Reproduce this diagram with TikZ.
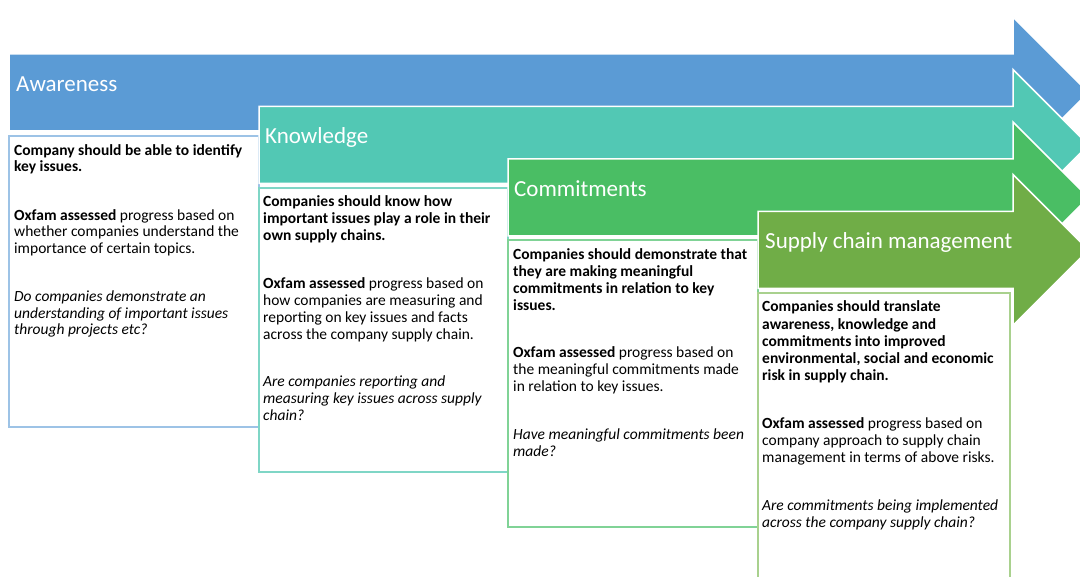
\documentclass[tikz,border=0pt]{standalone}
\usepackage{fontspec}
\setmainfont{Carlito}
\definecolor{cA}{HTML}{5B9BD5}
\definecolor{cB}{HTML}{52C8B4}
\definecolor{cC}{HTML}{4ABE64}
\definecolor{cD}{HTML}{70AD47}
\definecolor{bA}{HTML}{9DC3E6}
\definecolor{bB}{HTML}{7FD6C6}
\definecolor{bC}{HTML}{80D396}
\definecolor{bD}{HTML}{A9D18E}
\newcommand\stagearrow[3]{%
  \filldraw[fill=#3, draw=white, line width=1.5pt]
    (#1,{54+#2}) -- (1013,{54+#2}) -- (1013,{17+#2}) -- (1088.5,{92.5+#2})
    -- (1013,{168+#2}) -- (1013,{131+#2}) -- (#1,{131+#2}) -- cycle;}
\newcommand\firstline{\rule{0pt}{12pt}}
\tikzset{
  title/.style={anchor=base west, inner sep=0pt, text=white, font=\fontsize{23}{27}\selectfont},
  body/.style={anchor=north west, inner sep=0pt, align=left, text=black, font=\fontsize{15.5}{17}\selectfont},
  infobox/.style={fill=white, line width=1.5pt}
}
\begin{document}
\begin{tikzpicture}[x=1pt,y=-1pt]
\useasboundingbox (0,0) rectangle (1080,577);
\clip (0,0) rectangle (1080,577);
\fill[white] (0,0) rectangle (1080,577);

% Stage 1
\stagearrow{9}{0}{cA}
\node[title] (t1) at (16,91.5) {Awareness};
\filldraw[infobox, draw=bA] (9,136) rectangle (259,427);
\node[body, font=\fontsize{15.5}{16.5}\selectfont] (p1) at (14,143) {\firstline\textbf{Company should be able to identify}\\
\textbf{key issues.}\\[32pt]
\textbf{Oxfam assessed} progress based on\\
whether companies understand the\\
importance of certain topics.\\[32pt]
\textit{Do companies demonstrate an}\\
\textit{understanding of important issues}\\
\textit{through projects etc?}};

% Stage 2
\stagearrow{259}{52.5}{cB}
\node[title] (t2) at (265,144) {Knowledge};
\filldraw[infobox, draw=bB] (259,188) rectangle (508,472);
\node[body] (p2) at (263,194.5) {\firstline\textbf{Companies should know how}\\
\textbf{important issues play a role in their}\\
\textbf{own supply chains.}\\[30.5pt]
\textbf{Oxfam assessed} progress based on\\
how companies are measuring and\\
reporting on key issues and facts\\
across the company supply chain.\\[30pt]
\textit{Are companies reporting and}\\
\textit{measuring key issues across supply}\\
\textit{chain?}};

% Stage 3
\stagearrow{508}{105}{cC}
\node[title] (t3) at (514,196.5) {Commitments};
\filldraw[infobox, draw=bC] (508,240) rectangle (758,527);
\node[body] (p3) at (513,247.5) {\firstline\textbf{Companies should demonstrate that}\\
\textbf{they are making meaningful}\\
\textbf{commitments in relation to key}\\
\textbf{issues.}\\[30pt]
\textbf{Oxfam assessed} progress based on\\
the meaningful commitments made\\
in relation to key issues.\\[31pt]
\textit{Have meaningful commitments been}\\
\textit{made?}};

% Stage 4
\stagearrow{758}{157.5}{cD}
\node[title] (t4) at (765,249) {Supply chain management};
\filldraw[infobox, draw=bD] (758,293) rectangle (1010,600);
\node[body, font=\fontsize{15.5}{17.3}\selectfont] (p4) at (762,299.5) {\firstline\textbf{Companies should translate}\\
\textbf{awareness, knowledge and}\\
\textbf{commitments into improved}\\
\textbf{environmental, social and economic}\\
\textbf{risk in supply chain.}\\[30pt]
\textbf{Oxfam assessed} progress based on\\
company approach to supply chain\\
management in terms of above risks.\\[30pt]
\textit{Are commitments being implemented}\\
\textit{across the company supply chain?}};
\end{tikzpicture}
\end{document}
